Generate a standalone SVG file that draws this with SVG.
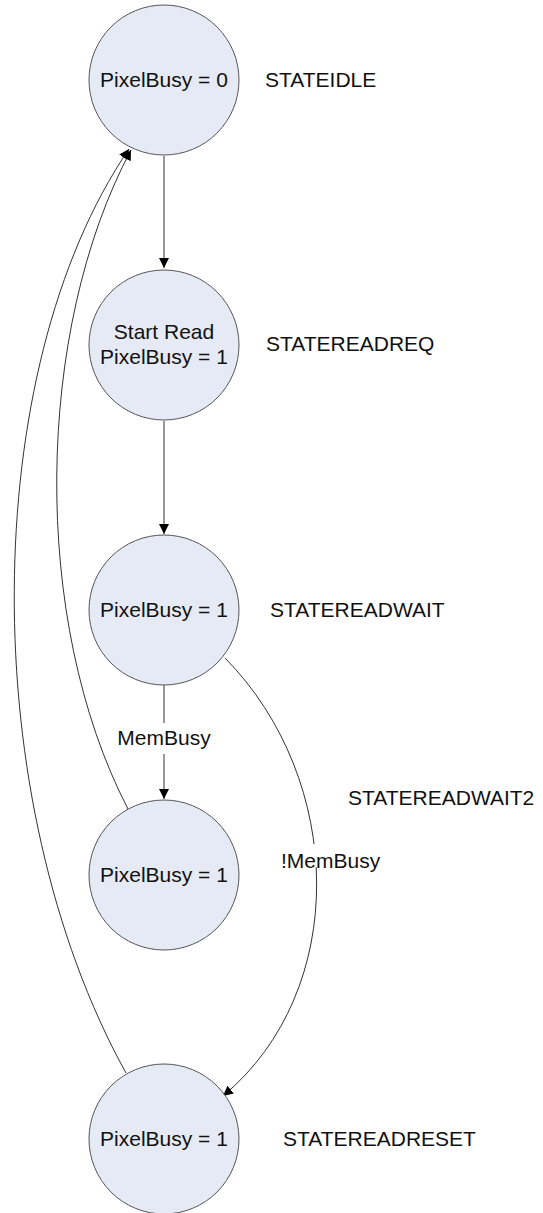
<svg xmlns="http://www.w3.org/2000/svg" width="543" height="1213" viewBox="0 0 543 1213">
  <defs>
    <marker id="arrow" markerWidth="10" markerHeight="10" refX="10" refY="5" orient="auto" markerUnits="userSpaceOnUse">
      <path d="M0,0 L10,5 L0,10 Z" fill="#000"/>
    </marker>
    <style>
      .state { fill: #e5eaf5; stroke: #555; stroke-width: 1; }
      .label { font-family: "Liberation Sans", Arial, sans-serif; font-size: 21px; fill: #111; }
      .mid { text-anchor: middle; }
      .edge { fill: none; stroke: #333; stroke-width: 1; }
    </style>
  </defs>
  <rect width="543" height="1213" fill="#fff"/>

  <!-- transitions -->
  <g id="connectors">
    <line class="edge" x1="164" y1="156" x2="164" y2="268" marker-end="url(#arrow)"/>
    <line class="edge" x1="164" y1="421" x2="164" y2="534" marker-end="url(#arrow)"/>
    <line class="edge" x1="164" y1="685" x2="164" y2="723"/>
    <line class="edge" x1="164" y1="754" x2="164" y2="799" marker-end="url(#arrow)"/>
    <path class="edge" d="M225,658 C345,780 350,990 223,1096" marker-end="url(#arrow)"/>
    <path class="edge" d="M128,809 C30,620 35,330 131,150" marker-end="url(#arrow)"/>
    <path class="edge" d="M126,1073 C-25,800 -22,370 129,149" marker-end="url(#arrow)"/>
    <!-- label backgrounds breaking the lines -->
    <rect x="112" y="724" width="104" height="29" fill="#fff"/>
    <rect x="278" y="844" width="104" height="23" fill="#fff"/>
    <text class="label mid" x="164" y="745">MemBusy</text>
    <text class="label" x="281" y="868">!MemBusy</text>
  </g>

  <g id="state-idle">
    <circle class="state" cx="164" cy="80" r="75"/>
    <text class="label mid" x="164" y="87">PixelBusy = 0</text>
    <text class="label" x="265" y="87">STATEIDLE</text>
  </g>

  <g id="state-readreq">
    <circle class="state" cx="164" cy="345" r="75"/>
    <text class="label mid" x="164" y="339">Start Read</text>
    <text class="label mid" x="164" y="364">PixelBusy = 1</text>
    <text class="label" x="266" y="351">STATEREADREQ</text>
  </g>

  <g id="state-readwait">
    <circle class="state" cx="164" cy="610" r="75"/>
    <text class="label mid" x="164" y="617">PixelBusy = 1</text>
    <text class="label" x="270" y="617">STATEREADWAIT</text>
  </g>

  <g id="state-readwait2">
    <circle class="state" cx="164" cy="875" r="75"/>
    <text class="label mid" x="164" y="882">PixelBusy = 1</text>
    <text class="label" x="348" y="805">STATEREADWAIT2</text>
  </g>

  <g id="state-readreset">
    <circle class="state" cx="164" cy="1139" r="75"/>
    <text class="label mid" x="164" y="1146">PixelBusy = 1</text>
    <text class="label" x="283" y="1146">STATEREADRESET</text>
  </g>
</svg>
